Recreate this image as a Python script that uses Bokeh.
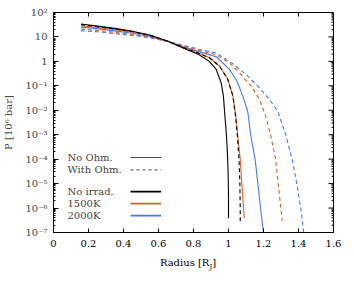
import numpy as np
from bokeh.plotting import figure
from bokeh.layouts import column
from bokeh.models import (FixedTicker, LogTicker, Label, CustomJSTickFormatter, Range1d, Div)
from bokeh.embed import file_html
from bokeh.resources import INLINE

# ---- data (radius in R_J, log10 of pressure in 10^6 bar) ----
r_noirr_noohm = [0.157, 0.25, 0.35, 0.45, 0.55, 0.65, 0.74, 0.83, 0.89, 0.93, 0.958, 0.971, 0.978, 0.986, 0.993, 0.998, 1.0, 1.0]
lp_noirr_noohm = [1.53, 1.45, 1.35, 1.23, 1.08, 0.83, 0.55, 0.28, 0.0, -0.33, -0.88, -1.42, -2.1, -2.8, -3.6, -4.6, -5.5, -6.42]

r_noirr_ohm = [0.157, 0.25, 0.35, 0.45, 0.55, 0.65, 0.74, 0.83, 0.891, 0.949, 0.996, 1.025, 1.04, 1.05, 1.06, 1.065, 1.067, 1.067]
lp_noirr_ohm = [1.50, 1.43, 1.33, 1.22, 1.07, 0.83, 0.57, 0.33, 0.15, -0.2, -0.74, -1.42, -2.24, -2.98, -4.0, -5.0, -6.0, -6.55]

r_1500_noohm = [0.157, 0.25, 0.35, 0.45, 0.55, 0.65, 0.74, 0.83, 0.891, 0.949, 0.996, 1.025, 1.042, 1.052, 1.067, 1.076, 1.086, 1.09]
lp_1500_noohm = [1.46, 1.39, 1.30, 1.19, 1.05, 0.83, 0.58, 0.34, 0.15, -0.19, -0.72, -1.40, -2.24, -2.98, -4.0, -5.0, -6.0, -6.42]

r_2000_noohm = [0.157, 0.25, 0.35, 0.45, 0.55, 0.65, 0.74, 0.83, 0.93, 1.006, 1.048, 1.082, 1.11, 1.126, 1.152, 1.168, 1.183, 1.2]
lp_2000_noohm = [1.40, 1.34, 1.25, 1.15, 1.02, 0.83, 0.61, 0.40, 0.19, -0.33, -0.8, -1.42, -2.05, -2.98, -4.0, -5.0, -6.0, -7.0]

r_1500_ohm = [0.157, 0.25, 0.35, 0.45, 0.55, 0.65, 0.74, 0.83, 0.93, 1.006, 1.072, 1.13, 1.177, 1.211, 1.24, 1.269, 1.284, 1.299, 1.307]
lp_1500_ohm = [1.32, 1.27, 1.19, 1.10, 0.99, 0.82, 0.63, 0.45, 0.27, -0.06, -0.54, -1.01, -1.56, -2.21, -2.98, -4.0, -5.0, -6.0, -6.53]

r_2000_ohm = [0.157, 0.25, 0.35, 0.45, 0.55, 0.65, 0.74, 0.83, 0.93, 1.025, 1.101, 1.177, 1.234, 1.282, 1.326, 1.364, 1.39, 1.413, 1.43]
lp_2000_ohm = [1.25, 1.21, 1.14, 1.06, 0.97, 0.82, 0.66, 0.50, 0.34, -0.1, -0.54, -1.08, -1.55, -2.05, -2.98, -4.0, -5.0, -6.0, -7.0]

x_ticks = [0, 0.2, 0.4, 0.6, 0.8, 1.0, 1.2, 1.4, 1.6]
x_tick_labels = {0: "0", 0.2: "0.2", 0.4: "0.4", 0.6: "0.6", 0.8: "0.8", 1.0: "1", 1.2: "1.2", 1.4: "1.4", 1.6: "1.6"}
y_decades = list(range(-7, 3))

legend_style = ["No Ohm.", "With Ohm."]
legend_temp = ["No irrad.", "1500K", "2000K"]

BLACK = "#000000"
ORANGE = "#d9602b"
BLUE = "#4a78e6"
FONT = "DejaVu Serif"

p = figure(frame_width=280, frame_height=220, x_range=Range1d(0, 1.6), y_range=Range1d(1e-7, 1e2),
           y_axis_type="log", output_backend="svg", toolbar_location=None,
           min_border_left=46, min_border_right=12, min_border_top=12, min_border_bottom=25)
p.grid.visible = False
p.outline_line_color = "black"
p.outline_line_width = 1
p.background_fill_color = "white"
p.border_fill_color = "white"

def P(lp):
    return [10 ** v for v in lp]

p.line(r_2000_ohm, P(lp_2000_ohm), line_color=BLUE, line_width=1.1, line_dash="4 3")
p.line(r_1500_ohm, P(lp_1500_ohm), line_color=ORANGE, line_width=1.1, line_dash="4 3")
p.line(r_2000_noohm, P(lp_2000_noohm), line_color=BLUE, line_width=1.1)
p.line(r_1500_noohm, P(lp_1500_noohm), line_color=ORANGE, line_width=1.1)
p.line(r_noirr_ohm, P(lp_noirr_ohm), line_color=BLACK, line_width=1.1, line_dash="4 3")
p.line(r_noirr_noohm, P(lp_noirr_noohm), line_color=BLACK, line_width=1.1)

# ---- axes ----
xax = p.xaxis[0]
xax.ticker = FixedTicker(ticks=x_ticks, minor_ticks=[])
xax.major_label_overrides = x_tick_labels
xax.major_tick_in = 4
xax.major_tick_out = 0
xax.minor_tick_in = 0
xax.minor_tick_out = 0
xax.major_label_standoff = 7
xax.major_label_text_font = FONT
xax.major_label_text_font_size = "10px"
xax.major_label_text_color = "black"

sup_js = """
const e = Math.round(Math.log10(tick));
const sup = {"-":"\u207b","0":"\u2070","1":"\u00b9","2":"\u00b2","3":"\u00b3","4":"\u2074","5":"\u2075","6":"\u2076","7":"\u2077","8":"\u2078","9":"\u2079"};
if (e == 0) return "1";
if (e == 1) return "10";
return "10" + String(e).split("").map(c => sup[c]).join("");
"""

yax = p.yaxis[0]
yax.ticker = LogTicker(num_minor_ticks=10)
yax.formatter = CustomJSTickFormatter(code=sup_js)
yax.major_tick_in = 5
yax.major_tick_out = 0
yax.minor_tick_in = 2
yax.minor_tick_out = 0
yax.major_label_standoff = 6
yax.major_label_text_font = FONT
yax.major_label_text_font_size = "10px"
yax.axis_label = "P [10\u2076 bar]"
yax.axis_label_text_font = FONT
yax.axis_label_text_font_size = "10px"
yax.axis_label_text_font_style = "normal"
yax.axis_label_standoff = 8

# mirrored ticks on top and right edges (tick marks only)
p.ray(x=x_ticks, y=[1e2] * len(x_ticks), length=4, length_units="screen",
      angle=-np.pi / 2, line_color="black", line_width=1)
p.ray(x=[1.6] * len(y_decades), y=[10.0 ** d for d in y_decades], length=5, length_units="screen",
      angle=np.pi, line_color="black", line_width=1)
minor_y = [m * 10.0 ** d for d in y_decades[:-1] for m in range(2, 10)]
p.ray(x=[1.6] * len(minor_y), y=minor_y, length=2, length_units="screen",
      angle=np.pi, line_color="black", line_width=1)

# ---- manual legend ----
lx_text = 0.08
lx0, lx1 = 0.44, 0.615
style_y = [10 ** -3.93, 10 ** -4.44]
temp_y = [10 ** -5.33, 10 ** -5.82, 10 ** -6.31]
for t, yy in zip(legend_style, style_y):
    p.add_layout(Label(x=lx_text, y=yy, text=t, text_baseline="middle", text_font=FONT,
                       text_font_size="10px"))
p.line([lx0, lx1], [style_y[0]] * 2, line_color="#444444", line_width=1)
p.line([lx0, lx1], [style_y[1]] * 2, line_color="#444444", line_width=1, line_dash="3 3")
for t, yy, c in zip(legend_temp, temp_y, [BLACK, ORANGE, BLUE]):
    p.add_layout(Label(x=lx_text, y=yy, text=t, text_baseline="middle", text_font=FONT,
                       text_font_size="10px"))
    p.line([lx0, lx1], [yy, yy], line_color=c, line_width=1.8)

# ---- x axis label with subscript J ----
xlabel = Div(text='Radius [R<sub style="font-size:7px">J</sub>]', width=280, height=14,
             margin=(0, 0, 0, 48),
             styles={"font-family": FONT, "font-size": "10px", "text-align": "center",
                     "line-height": "12px", "color": "black"})

layout = column(p, xlabel, spacing=0)
open("out.html", "w").write(file_html(layout, INLINE))
